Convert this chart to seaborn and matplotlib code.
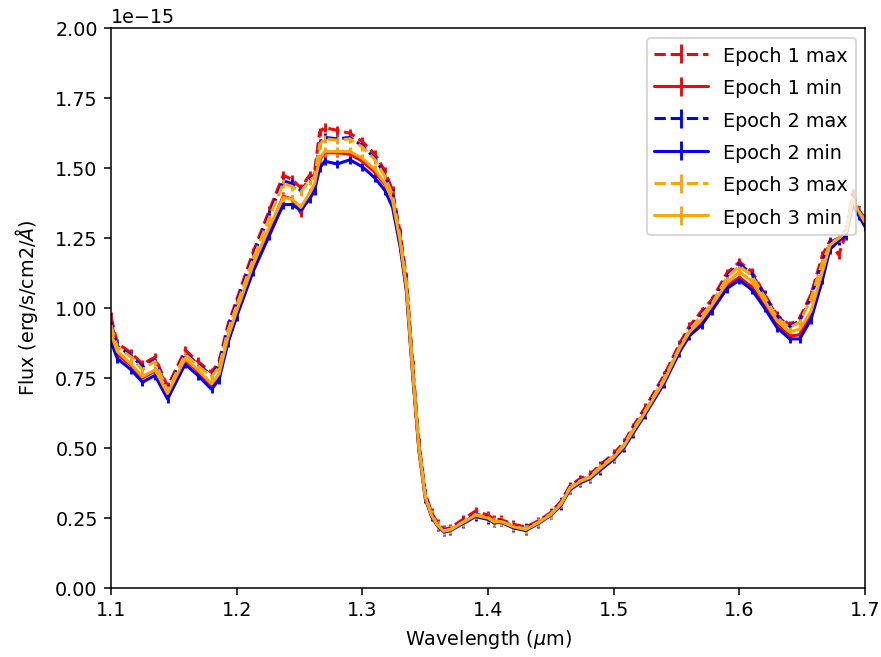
import matplotlib
matplotlib.use("Agg")
import matplotlib.pyplot as plt
import seaborn as sns
import numpy as np

wavelength = [1.100, 1.105, 1.116, 1.125, 1.135, 1.145, 1.159, 1.169, 1.180, 1.186,
              1.193, 1.200, 1.213, 1.226, 1.237, 1.244, 1.251, 1.258, 1.262, 1.266,
              1.270, 1.280, 1.290, 1.300, 1.310, 1.318, 1.324, 1.330, 1.335, 1.340,
              1.345, 1.350, 1.355, 1.360, 1.365, 1.370, 1.380, 1.390, 1.400, 1.405,
              1.410, 1.420, 1.430, 1.440, 1.450, 1.458, 1.465, 1.473, 1.481, 1.489,
              1.500, 1.508, 1.515, 1.525, 1.540, 1.552, 1.560, 1.570, 1.578, 1.590,
              1.600, 1.610, 1.620, 1.630, 1.640, 1.648, 1.657, 1.666, 1.672, 1.679,
              1.685, 1.690, 1.695, 1.700]

# flux in units of 1e-15 erg/s/cm2/A
epoch1_max = [0.97, 0.875, 0.84, 0.80, 0.825, 0.72, 0.85, 0.81, 0.77, 0.81,
              0.94, 1.03, 1.20, 1.35, 1.475, 1.46, 1.43, 1.475, 1.49, 1.63,
              1.645, 1.635, 1.625, 1.595, 1.55, 1.49, 1.42, 1.27, 1.11, 0.80,
              0.52, 0.34, 0.27, 0.23, 0.21, 0.215, 0.245, 0.275, 0.26, 0.245,
              0.245, 0.228, 0.218, 0.24, 0.27, 0.31, 0.365, 0.39, 0.405, 0.44,
              0.48, 0.52, 0.575, 0.645, 0.76, 0.87, 0.935, 0.99, 1.03, 1.125,
              1.165, 1.13, 1.05, 0.975, 0.94, 0.965, 1.05, 1.19, 1.24, 1.19,
              1.27, 1.41, 1.35, 1.32]
epoch1_min = [0.90, 0.835, 0.795, 0.75, 0.775, 0.69, 0.815, 0.775, 0.725, 0.76,
              0.89, 0.985, 1.15, 1.28, 1.40, 1.39, 1.34, 1.41, 1.44, 1.53,
              1.555, 1.555, 1.55, 1.525, 1.485, 1.44, 1.38, 1.235, 1.07, 0.77,
              0.495, 0.325, 0.26, 0.223, 0.203, 0.208, 0.234, 0.26, 0.25, 0.236,
              0.238, 0.219, 0.209, 0.233, 0.263, 0.30, 0.355, 0.38, 0.395, 0.426,
              0.466, 0.506, 0.557, 0.627, 0.738, 0.85, 0.91, 0.955, 1.005, 1.08,
              1.11, 1.075, 1.01, 0.94, 0.90, 0.905, 0.975, 1.115, 1.22, 1.245,
              1.27, 1.38, 1.34, 1.30]
epoch2_max = [0.95, 0.865, 0.83, 0.79, 0.815, 0.71, 0.84, 0.80, 0.76, 0.80,
              0.93, 1.02, 1.185, 1.335, 1.455, 1.445, 1.42, 1.46, 1.475, 1.59,
              1.61, 1.605, 1.61, 1.58, 1.535, 1.475, 1.41, 1.26, 1.10, 0.79,
              0.51, 0.335, 0.265, 0.226, 0.206, 0.211, 0.238, 0.265, 0.253, 0.238,
              0.24, 0.222, 0.212, 0.236, 0.266, 0.305, 0.36, 0.385, 0.40, 0.434,
              0.474, 0.514, 0.568, 0.637, 0.752, 0.86, 0.925, 0.98, 1.02, 1.115,
              1.158, 1.122, 1.045, 0.97, 0.935, 0.955, 1.04, 1.17, 1.235, 1.25,
              1.28, 1.39, 1.35, 1.31]
epoch2_min = [0.88, 0.82, 0.78, 0.735, 0.76, 0.675, 0.80, 0.76, 0.71, 0.745,
              0.875, 0.97, 1.13, 1.26, 1.37, 1.37, 1.35, 1.39, 1.42, 1.50,
              1.525, 1.515, 1.53, 1.505, 1.465, 1.42, 1.36, 1.22, 1.06, 0.76,
              0.49, 0.32, 0.255, 0.22, 0.20, 0.205, 0.23, 0.255, 0.245, 0.232,
              0.235, 0.215, 0.205, 0.23, 0.26, 0.295, 0.35, 0.375, 0.39, 0.42,
              0.46, 0.50, 0.55, 0.62, 0.73, 0.84, 0.90, 0.94, 0.99, 1.07,
              1.10, 1.065, 1.00, 0.93, 0.89, 0.89, 0.96, 1.10, 1.21, 1.24,
              1.26, 1.37, 1.33, 1.29]
epoch3_max = [0.94, 0.86, 0.825, 0.78, 0.81, 0.705, 0.835, 0.795, 0.755, 0.79,
              0.92, 1.01, 1.175, 1.325, 1.445, 1.435, 1.415, 1.455, 1.47, 1.585,
              1.605, 1.60, 1.605, 1.575, 1.53, 1.47, 1.405, 1.255, 1.095, 0.785,
              0.505, 0.33, 0.262, 0.225, 0.205, 0.21, 0.236, 0.263, 0.252, 0.237,
              0.239, 0.221, 0.211, 0.235, 0.265, 0.303, 0.358, 0.383, 0.398, 0.432,
              0.472, 0.512, 0.565, 0.634, 0.748, 0.857, 0.92, 0.975, 1.015, 1.11,
              1.15, 1.115, 1.04, 0.965, 0.93, 0.95, 1.035, 1.165, 1.23, 1.25,
              1.275, 1.39, 1.345, 1.305]
epoch3_min = [0.91, 0.845, 0.80, 0.755, 0.78, 0.695, 0.82, 0.78, 0.73, 0.765,
              0.895, 0.99, 1.155, 1.29, 1.395, 1.39, 1.36, 1.41, 1.445, 1.535,
              1.56, 1.56, 1.56, 1.535, 1.495, 1.445, 1.385, 1.24, 1.075, 0.775,
              0.50, 0.325, 0.26, 0.223, 0.203, 0.208, 0.234, 0.26, 0.25, 0.236,
              0.238, 0.219, 0.209, 0.233, 0.263, 0.30, 0.355, 0.38, 0.395, 0.427,
              0.467, 0.507, 0.558, 0.628, 0.74, 0.852, 0.913, 0.96, 1.01, 1.09,
              1.13, 1.095, 1.025, 0.955, 0.915, 0.925, 0.99, 1.13, 1.225, 1.25,
              1.275, 1.39, 1.345, 1.31]
flux_err = 0.015  # in units of 1e-15

series_labels = ["Epoch 1 max", "Epoch 1 min", "Epoch 2 max",
                 "Epoch 2 min", "Epoch 3 max", "Epoch 3 min"]
series_values = [epoch1_max, epoch1_min, epoch2_max, epoch2_min, epoch3_max, epoch3_min]
series_colors = ["red", "red", "blue", "blue", "orange", "orange"]
series_styles = ["--", "-", "--", "-", "--", "-"]

SCALE = 1e-15

sns.set_style("ticks", {
    "axes.edgecolor": "black", "xtick.color": "black", "ytick.color": "black",
    "text.color": "black", "axes.labelcolor": "black",
})
plt.rcParams.update({"xtick.major.size": 3.5, "ytick.major.size": 3.5,
                     "axes.linewidth": 0.8, "font.size": 10,
                     "font.family": ["DejaVu Sans"]})

fig = plt.figure(figsize=(881 / 137.5, 657 / 137.5), dpi=137.5)
ax = fig.add_axes([0.126, 0.105, 0.856, 0.852])

wl = np.array(wavelength)
for lab, vals, col, ls in zip(series_labels, series_values, series_colors, series_styles):
    y = np.array(vals) * SCALE
    ax.errorbar(wl, y, yerr=flux_err * SCALE, color=col, linestyle=ls,
                linewidth=1.6, elinewidth=1.5, label=lab)

ax.set_xlim(1.1, 1.7)
ax.set_ylim(0, 2e-15)
ax.set_xticks([1.1, 1.2, 1.3, 1.4, 1.5, 1.6, 1.7])
ax.set_xlabel(r"Wavelength ($\mu$m)")
ax.set_ylabel(r"Flux (erg/s/cm2/$\AA$)", labelpad=8)
ax.legend(loc="upper right", handlelength=2.8, handleheight=1.25,
          labelspacing=0.62, borderaxespad=0.5)

fig.savefig("out.png", dpi=137.5)
